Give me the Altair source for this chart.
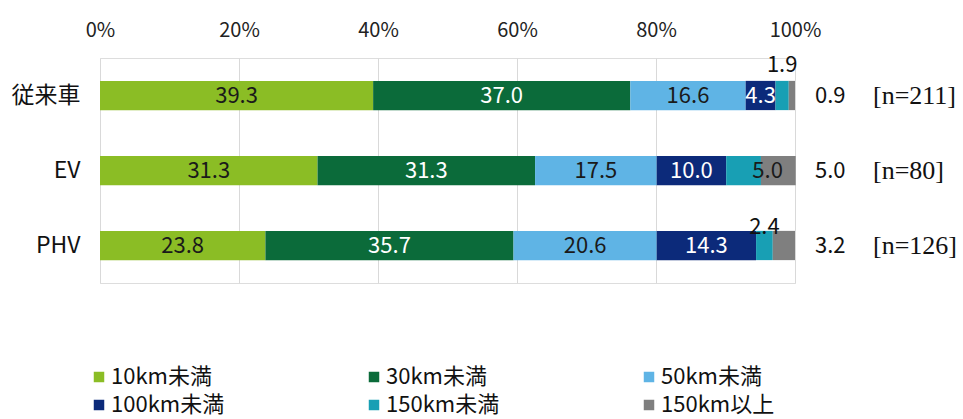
import altair as alt
import pandas as pd

categories = ["従来車", "EV", "PHV"]
series = ["10km未満", "30km未満", "50km未満", "100km未満", "150km未満", "150km以上"]
v_10 = [39.3, 31.3, 23.8]
v_30 = [37.0, 31.3, 35.7]
v_50 = [16.6, 17.5, 20.6]
v_100 = [4.3, 10.0, 14.3]
v_150 = [1.9, 5.0, 2.4]
v_over = [0.9, 5.0, 3.2]
n_values = [211, 80, 126]
x_ticks = [0, 20, 40, 60, 80, 100]

colors = ["#8bbd25", "#0b6b3a", "#5fb4e5", "#0c2a7a", "#189fb4", "#7f7f7f"]
text_colors = ["#1a1a1a", "#ffffff", "#1a1a1a", "#ffffff", "#1a1a1a", "#1a1a1a"]

FONT = "Noto Sans CJK JP"

all_vals = [v_10, v_30, v_50, v_100, v_150, v_over]
rows = []
for ci, cat in enumerate(categories):
    start = 0.0
    for si, s in enumerate(series):
        v = all_vals[si][ci]
        end = start + v
        if si == 5:
            place = "right"
        elif si == 4 and v < 3:
            place = "above_hi" if ci == 0 else "above"
        elif si == 4:
            place = "shift"
        else:
            place = "inside"
        rows.append(dict(cat=cat, series=s, order=si, value=v, start=start,
                         end=end, mid=(start + end) / 2, label=f"{v:.1f}",
                         tcol=text_colors[si], place=place))
        start = end
df = pd.DataFrame(rows)
nd = pd.DataFrame({"cat": categories, "n": [f"[n={n}]" for n in n_values]})

x_axis = alt.Axis(orient="top", values=x_ticks, labelExpr="datum.value + '%'",
                  grid=True, gridColor="#d9d9d9", gridWidth=1, domain=False,
                  ticks=False, labelFontSize=20, labelFont=FONT,
                  labelColor="#222222", labelPadding=18, labelFlush=False,
                  title=None)
x_scale = alt.Scale(domain=[0, 100], nice=False, zero=True)
y_enc = alt.Y("cat:N", sort=categories,
              scale=alt.Scale(paddingInner=0.61, paddingOuter=0.305),
              axis=alt.Axis(domain=False, ticks=False, labelFontSize=23,
                            labelFont=FONT, labelColor="#111111",
                            labelPadding=20, title=None, grid=False),
              title=None)

base = alt.Chart(df)

bars = base.mark_bar().encode(
    x=alt.X("start:Q", scale=x_scale, axis=x_axis, title=None),
    x2="end:Q",
    y=y_enc,
    color=alt.Color("series:N", scale=alt.Scale(domain=series, range=colors),
                    legend=alt.Legend(orient="none", legendX=-12, legendY=308,
                                      columns=3, direction="horizontal",
                                      symbolType="square", symbolSize=110,
                                      symbolStrokeWidth=0,
                                      labelFontSize=22, labelFont=FONT,
                                      labelColor="#111111", labelOffset=1,
                                      columnPadding=138, rowPadding=6,
                                      gridAlign="all", title=None)),
)

text_common = dict(font=FONT, fontSize=22, baseline="middle")
x_mid = alt.X("mid:Q", scale=x_scale, axis=x_axis, title=None)

inside = base.transform_filter(alt.datum.place == "inside").mark_text(
    align="center", **text_common).encode(
    x=x_mid, y=y_enc, text="label:N", color=alt.Color("tcol:N", scale=None))

shifted = base.transform_filter(alt.datum.place == "shift").mark_text(
    align="center", dx=24, **text_common).encode(
    x=x_mid, y=y_enc, text="label:N", color=alt.Color("tcol:N", scale=None))

above_hi = base.transform_filter(alt.datum.place == "above_hi").mark_text(
    align="center", dy=-31, **text_common).encode(
    x=x_mid, y=y_enc, text="label:N", color=alt.value("#111111"))

above = base.transform_filter(alt.datum.place == "above").mark_text(
    align="center", dy=-19, **text_common).encode(
    x=x_mid, y=y_enc, text="label:N", color=alt.value("#111111"))

right = base.transform_filter(alt.datum.place == "right").mark_text(
    align="left", dx=20, **text_common).encode(
    x=alt.datum(100, scale=x_scale, axis=x_axis),
    y=y_enc, text="label:N", color=alt.value("#111111"))

nlab = alt.Chart(nd).mark_text(
    align="left", dx=78, font="Liberation Serif", fontSize=26,
    baseline="middle", color="#111111").encode(
    x=alt.datum(100, scale=x_scale, axis=x_axis),
    y=y_enc, text="n:N")

chart = alt.layer(bars, inside, shifted, above_hi, above, right, nlab).properties(
    width=695, height=225,
    padding={"left": 100, "top": 58, "right": 168, "bottom": 136},
    autosize="none",
).configure_view(stroke=None).configure(background="white")

chart.save("out.html", embed_options={"renderer": "svg", "actions": False})
